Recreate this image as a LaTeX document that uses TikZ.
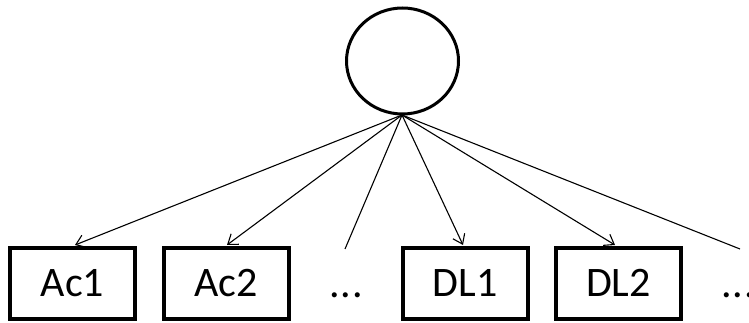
\documentclass[tikz,border=0pt]{standalone}
\usepackage{fontspec}
\setmainfont{Carlito}
\usetikzlibrary{arrows.meta,shapes.geometric}
\begin{document}
\begin{tikzpicture}[x=1pt,y=-1pt,
  boxnode/.style={draw=black,line width=4pt,minimum width=125pt,minimum height=71pt,inner sep=0pt,font=\fontsize{42}{42}\selectfont},
  dotsnode/.style={inner sep=0pt,anchor=base west,font=\fontsize{42}{42}\selectfont},
  link/.style={line width=1.1pt},
  arr/.style={link,-{Straight Barb[length=9pt,width=13pt,line width=1.1pt]}}]
\useasboundingbox (0,0) rectangle (749,323);
\node[draw=black,line width=3pt,ellipse,minimum width=112pt,minimum height=106pt,inner sep=0pt] (lat) at (402.5,61) {};
\coordinate (src) at (402,115);
\node[boxnode] (ac1) at (72.5,283) {Ac1};
\node[boxnode] (ac2) at (226,283) {Ac2};
\node[boxnode] (dl1) at (465,283) {DL1};
\node[boxnode] (dl2) at (618.5,283) {DL2};
\node[dotsnode] (d1) at (329,297) {.\kern1pt.\kern1pt.};
\node[dotsnode] (d2) at (721,297) {.\kern1pt.\kern1pt.};
\coordinate (e1) at (345,249);
\coordinate (e2) at (740,249);
\draw[arr] (src) -- (75,245);
\draw[arr] (src) -- (227,245);
\draw[arr] (src) -- (463,245);
\draw[arr] (src) -- (615,245);
\draw[link] (src) -- (e1);
\draw[link] (src) -- (e2);
\end{tikzpicture}
\end{document}
